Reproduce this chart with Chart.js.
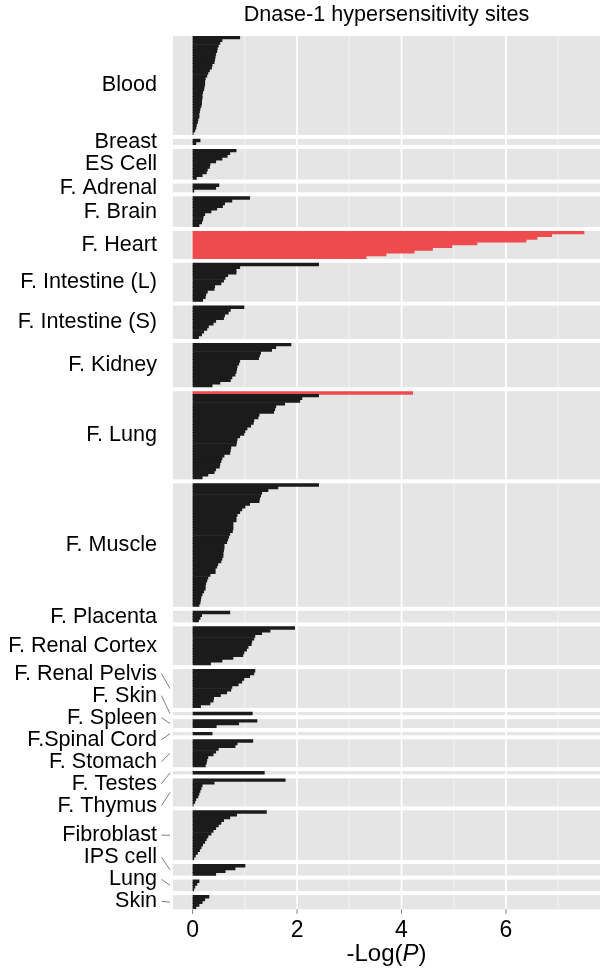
<!doctype html>
<html>
    <head>
        <meta charset="utf-8">
        <title>Dnase-1 hypersensitivity sites</title>
        <script src="https://cdn.jsdelivr.net/npm/chart.js@4/dist/chart.umd.min.js"></script>
        <style>
            html, body { margin: 0; padding: 0; background: #fff; }
            canvas { display: block; }
        </style>
    </head>

    <body>
        <canvas id="myChart" width="600" height="973"></canvas>
        <script>
            // tissues (facets), top to bottom
            const tissues = ['Blood', 'Breast', 'ES Cell', 'F. Adrenal', 'F. Brain', 'F. Heart',
                'F. Intestine (L)', 'F. Intestine (S)', 'F. Kidney', 'F. Lung', 'F. Muscle',
                'F. Placenta', 'F. Renal Cortex', 'F. Renal Pelvis', 'F. Skin', 'F. Spleen',
                'F.Spinal Cord', 'F. Stomach', 'F. Testes', 'F. Thymus', 'Fibroblast',
                'IPS cell', 'Lung', 'Skin'];

            // -log10(P) per sample, sorted within each tissue
            const blood = [0.91, 0.57, 0.53, 0.5, 0.48, 0.47, 0.45, 0.44, 0.43, 0.42, 0.38, 0.37,
                0.33, 0.3, 0.28, 0.25, 0.24, 0.24, 0.23, 0.22, 0.2, 0.19, 0.19, 0.18, 0.18, 0.17,
                0.15, 0.14, 0.13, 0.13, 0.11, 0.1, 0.08, 0.07, 0.05, 0.02];
            const breast = [0.15, 0.07];
            const esCell = [0.84, 0.72, 0.67, 0.57, 0.45, 0.34, 0.33, 0.29, 0.27, 0.19, 0.08];
            const fAdrenal = [0.51, 0.45, 0.03];
            const fBrain = [1.1, 0.76, 0.62, 0.58, 0.47, 0.36, 0.24, 0.21, 0.2, 0.18, 0.13];
            const fHeart = [7.5, 6.88, 6.6, 6.39, 5.45, 4.97, 4.6, 4.25, 3.71, 3.33];
            const fIntestineL = [2.42, 0.91, 0.84, 0.84, 0.68, 0.63, 0.6, 0.55, 0.43, 0.42, 0.29,
                0.26, 0.25, 0.2];
            const fIntestineS = [0.99, 0.73, 0.69, 0.62, 0.6, 0.45, 0.4, 0.31, 0.28, 0.22, 0.18, 0.12];
            const fKidney = [1.89, 1.6, 1.52, 1.31, 1.29, 1.27, 0.91, 0.89, 0.86, 0.85, 0.84, 0.82,
                0.76, 0.73, 0.53, 0.38];
            const fLung = [4.22, 2.42, 2.1, 2.06, 1.77, 1.6, 1.58, 1.56, 1.28, 1.26, 1.18, 1.17,
                1.12, 1.05, 1.01, 0.99, 0.91, 0.86, 0.85, 0.84, 0.74, 0.73, 0.72, 0.61, 0.57, 0.55,
                0.53, 0.52, 0.45, 0.42, 0.3, 0.19];
            const fMuscle = [2.42, 1.64, 1.45, 1.33, 1.31, 1.29, 1.28, 1.1, 1.01, 0.95, 0.91, 0.86,
                0.84, 0.84, 0.78, 0.78, 0.78, 0.77, 0.72, 0.7, 0.68, 0.66, 0.61, 0.61, 0.6, 0.59,
                0.59, 0.57, 0.55, 0.49, 0.47, 0.44, 0.44, 0.34, 0.3, 0.28, 0.26, 0.25, 0.25, 0.22,
                0.19, 0.17, 0.16, 0.15, 0.13];
            const fPlacenta = [0.72, 0.18, 0.15, 0.12];
            const fRenalCortex = [1.96, 1.49, 1.33, 1.2, 1.18, 1.14, 1.13, 1.07, 1.04, 0.99, 0.97,
                0.78, 0.57, 0.35];
            const fRenalPelvis = [1.2, 1.18, 1.1, 0.99, 0.95, 0.88, 0.76, 0.74, 0.66, 0.54, 0.41,
                0.4, 0.34, 0.16];
            const fSkin = [1.15];
            const fSpleen = [1.24, 0.89, 0.46];
            const fSpinalCord = [0.38];
            const fStomach = [1.16, 0.86, 0.82, 0.5, 0.45, 0.4, 0.3, 0.28, 0.27, 0.25];
            const fTestes = [1.38];
            const fThymus = [1.78, 0.42, 0.19, 0.17, 0.15, 0.13, 0.11, 0.07, 0.05, 0.02];
            const fibroblast = [1.42, 0.85, 0.72, 0.6, 0.55, 0.5, 0.45, 0.4, 0.36, 0.3, 0.27, 0.24,
                0.2, 0.17, 0.14, 0.1, 0.06, 0.03];
            const ipsCell = [1.01, 0.82, 0.63, 0.45];
            const lung = [0.13, 0.09, 0.05, 0.03];
            const skin = [0.32, 0.24, 0.19, 0.13, 0.07];

            const tissueValues = [blood, breast, esCell, fAdrenal, fBrain, fHeart, fIntestineL,
                fIntestineS, fKidney, fLung, fMuscle, fPlacenta, fRenalCortex, fRenalPelvis, fSkin,
                fSpleen, fSpinalCord, fStomach, fTestes, fThymus, fibroblast, ipsCell, lung, skin];

            const majorTicks = [0, 2, 4, 6];
            const minorTicks = [1, 3, 5, 7];
            const SIG_THRESHOLD = 3;   // bars above this are highlighted

            // facet layout in "row" units (ggplot style: 0.6 padding, gap between panels)
            var PAD = 0.6;
            var GAP = 1.47;
            var LABEL_SPACING = 22;
            var LEADER_START = tissues.indexOf('F. Renal Pelvis');
            var FONT = '"Liberation Sans", Arial, Helvetica, sans-serif';

            var panels = [];
            var points = [];
            var colors = [];
            var pos = 0;
            for (var p = 0; p < tissues.length; p++) {
                var vals = tissueValues[p];
                var start = pos;
                for (var i = 0; i < vals.length; i++) {
                    points.push({ x: vals[i], y: start + PAD + i });
                    colors.push(vals[i] > SIG_THRESHOLD ? '#EF4B4E' : '#1B1B1B');
                }
                var end = start + vals.length - 1 + 2 * PAD;
                panels.push({ name: tissues[p], start: start, end: end });
                pos = end + GAP;
            }
            var yMax = pos - GAP;

            // simple label repel: merge overlapping labels into evenly spaced clusters
            function repelLabels(targets, spacing, maxY) {
                var clusters = targets.map(function (t, i) { return { first: i, n: 1, sum: t }; });
                function top(c) {
                    var t = c.sum / c.n - (c.n - 1) * spacing / 2;
                    return Math.min(t, maxY - (c.n - 1) * spacing);
                }
                var merged = true;
                while (merged) {
                    merged = false;
                    for (var c = 0; c + 1 < clusters.length; c++) {
                        var a = clusters[c], b = clusters[c + 1];
                        if (top(b) - (top(a) + (a.n - 1) * spacing) < spacing) {
                            a.n += b.n;
                            a.sum += b.sum;
                            clusters.splice(c + 1, 1);
                            merged = true;
                            break;
                        }
                    }
                }
                var out = [];
                clusters.forEach(function (c) {
                    var t = top(c);
                    for (var k = 0; k < c.n; k++) out.push(t + k * spacing);
                });
                return out;
            }

            var facetPlugin = {
                id: 'facets',
                beforeDatasetsDraw: function (chart) {
                    var ctx = chart.ctx, area = chart.chartArea;
                    var x = chart.scales.x, y = chart.scales.y;
                    ctx.save();
                    panels.forEach(function (pn) {
                        var top = y.getPixelForValue(pn.start);
                        var bot = y.getPixelForValue(pn.end);
                        ctx.fillStyle = '#E5E5E5';
                        ctx.fillRect(area.left, top, area.right - area.left, bot - top);
                        ctx.strokeStyle = '#F1F1F1';
                        ctx.lineWidth = 1.2;
                        minorTicks.forEach(function (v) {
                            var px = x.getPixelForValue(v);
                            ctx.beginPath(); ctx.moveTo(px, top); ctx.lineTo(px, bot); ctx.stroke();
                        });
                        ctx.strokeStyle = '#FFFFFF';
                        ctx.lineWidth = 1.7;
                        majorTicks.forEach(function (v) {
                            var px = x.getPixelForValue(v);
                            ctx.beginPath(); ctx.moveTo(px, top); ctx.lineTo(px, bot); ctx.stroke();
                        });
                    });
                    ctx.restore();
                },
                afterDraw: function (chart) {
                    var ctx = chart.ctx, area = chart.chartArea;
                    var x = chart.scales.x, y = chart.scales.y;
                    ctx.save();

                    // facet labels on the left
                    var centers = panels.map(function (pn) {
                        return (y.getPixelForValue(pn.start) + y.getPixelForValue(pn.end)) / 2;
                    });
                    var labelY = repelLabels(centers, LABEL_SPACING, area.bottom - 8);
                    ctx.font = '21.6px ' + FONT;
                    ctx.fillStyle = '#000';
                    ctx.textAlign = 'right';
                    ctx.textBaseline = 'middle';
                    ctx.strokeStyle = '#7F7F7F';
                    ctx.lineWidth = 1;
                    panels.forEach(function (pn, i) {
                        ctx.fillText(pn.name, area.left - 16, labelY[i]);
                        if (i >= LEADER_START) {
                            ctx.beginPath();
                            ctx.moveTo(area.left - 11.5, labelY[i]);
                            ctx.lineTo(area.left - 3, centers[i]);
                            ctx.stroke();
                        }
                    });

                    // x axis ticks and labels
                    ctx.strokeStyle = '#7F7F7F';
                    ctx.textAlign = 'center';
                    ctx.font = '23px ' + FONT;
                    majorTicks.forEach(function (v) {
                        var px = x.getPixelForValue(v);
                        ctx.beginPath();
                        ctx.moveTo(px, area.bottom);
                        ctx.lineTo(px, area.bottom + 4.5);
                        ctx.stroke();
                        ctx.fillText(String(v), px, area.bottom + 21);
                    });

                    // title
                    var cx = (area.left + area.right) / 2;
                    ctx.font = '21.6px ' + FONT;
                    ctx.fillText('Dnase-1 hypersensitivity sites', cx, 15);

                    // axis title: -Log(P) with italic P
                    var f1 = '24px ' + FONT, f2 = 'italic 24px ' + FONT;
                    ctx.font = f1;
                    var w1 = ctx.measureText('-Log(').width, w3 = ctx.measureText(')').width;
                    ctx.font = f2;
                    var w2 = ctx.measureText('P').width;
                    var sx = cx - (w1 + w2 + w3) / 2;
                    ctx.textAlign = 'left';
                    ctx.font = f1;
                    ctx.fillText('-Log(', sx, 954);
                    ctx.font = f2;
                    ctx.fillText('P', sx + w1, 954);
                    ctx.font = f1;
                    ctx.fillText(')', sx + w1 + w2, 954);
                    ctx.restore();
                }
            };

            var ctx = document.getElementById('myChart').getContext('2d');
            var myChart = new Chart(ctx, {
                type: 'bar',
                data: {
                    datasets: [{
                        data: points,
                        backgroundColor: colors,
                        borderWidth: 0,
                        barPercentage: 1.25,
                        categoryPercentage: 1
                    }]
                },
                options: {
                    indexAxis: 'y',
                    responsive: false,
                    animation: false,
                    layout: { padding: { left: 173, right: 0, top: 36, bottom: 63.7 } },
                    scales: {
                        x: { type: 'linear', min: -0.375, max: 7.8, display: false, offset: false },
                        y: {
                            type: 'linear', min: 0, max: yMax, reverse: true, display: false,
                            offset: false, grace: 0,
                            afterBuildTicks: function (s) {
                                s.ticks = [{ value: s.min }, { value: s.max }];
                            }
                        }
                    },
                    plugins: {
                        legend: { display: false },
                        tooltip: { enabled: false }
                    }
                },
                plugins: [facetPlugin]
            });
        </script>
    </body>

</html>
